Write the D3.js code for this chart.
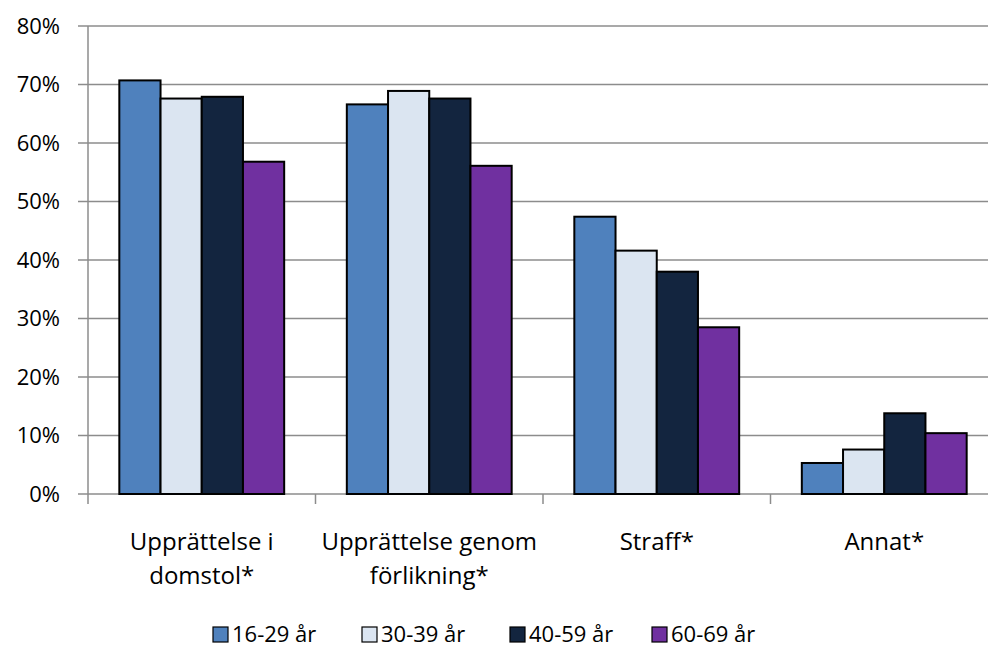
<!DOCTYPE html>
<html>
<head>
<meta charset="utf-8">
<script src="https://cdn.jsdelivr.net/npm/d3@7"></script>
<style>
  body { margin: 0; background: #fff; }
  svg { display: block; font-family: "Open Sans", Lato, sans-serif; }
</style>
</head>
<body>
<div id="chart"></div>
<script>
const categories = [["Upprättelse i", "domstol*"], ["Upprättelse genom", "förlikning*"], ["Straff*"], ["Annat*"]];
const seriesNames = ["16-29 år", "30-39 år", "40-59 år", "60-69 år"];
const seriesColors = ["#4F81BD", "#DBE5F1", "#13253F", "#7030A0"];
const values16 = [70.7, 66.6, 47.4, 5.3];
const values30 = [67.6, 68.9, 41.6, 7.6];
const values40 = [67.9, 67.6, 38.0, 13.8];
const values60 = [56.8, 56.1, 28.5, 10.4];
const yTicks = [0, 10, 20, 30, 40, 50, 60, 70, 80];

const allValues = [values16, values30, values40, values60];

const width = 988, height = 655;
const margin = {top: 26, left: 88, right: -10, bottom: 161};

const svg = d3.select("#chart").append("svg")
  .attr("width", width)
  .attr("height", height);

const x = d3.scaleBand()
  .domain(d3.range(categories.length))
  .range([margin.left, width - margin.right])
  .paddingInner(0).paddingOuter(0);

const xInner = d3.scaleBand()
  .domain(d3.range(seriesNames.length))
  .range([0, x.bandwidth()])
  .paddingOuter(0.76).paddingInner(0);

const y = d3.scaleLinear()
  .domain([0, 80])
  .range([height - margin.bottom, margin.top]);

// gridlines
svg.append("g")
  .selectAll("line")
  .data(yTicks)
  .enter().append("line")
  .attr("x1", margin.left - 10)
  .attr("x2", width)
  .attr("y1", d => y(d))
  .attr("y2", d => y(d))
  .attr("stroke", "#8c8c8c")
  .attr("stroke-width", 1.5);

// y axis line
svg.append("line")
  .attr("x1", margin.left).attr("x2", margin.left)
  .attr("y1", y(80)).attr("y2", y(0) + 10)
  .attr("stroke", "#8c8c8c")
  .attr("stroke-width", 1.5);

// y labels
svg.append("g")
  .selectAll("text")
  .data(yTicks)
  .enter().append("text")
  .attr("x", 60)
  .attr("y", d => y(d))
  .attr("dy", "0.36em")
  .attr("text-anchor", "end")
  .attr("font-size", 22)
  .attr("fill", "#000")
  .text(d => d + "%");

// category ticks
svg.append("g")
  .selectAll("line")
  .data(d3.range(1, categories.length + 1))
  .enter().append("line")
  .attr("x1", d => margin.left + d * x.bandwidth())
  .attr("x2", d => margin.left + d * x.bandwidth())
  .attr("y1", y(0))
  .attr("y2", y(0) + 10)
  .attr("stroke", "#8c8c8c")
  .attr("stroke-width", 1.5);

// bars
const groups = svg.append("g")
  .selectAll("g")
  .data(categories)
  .enter().append("g")
  .attr("transform", (d, i) => "translate(" + x(i) + ",0)");

groups.selectAll("rect")
  .data((d, i) => allValues.map((s, j) => ({s: j, v: s[i]})))
  .enter().append("rect")
  .attr("x", d => xInner(d.s))
  .attr("width", xInner.bandwidth())
  .attr("y", d => y(d.v))
  .attr("height", d => y(0) - y(d.v))
  .attr("fill", d => seriesColors[d.s])
  .attr("stroke", "#000")
  .attr("stroke-width", 2);

// category labels
groups.append("text")
  .attr("text-anchor", "middle")
  .attr("font-size", 24)
  .attr("fill", "#000")
  .selectAll("tspan")
  .data(d => d)
  .enter().append("tspan")
  .attr("x", x.bandwidth() / 2)
  .attr("y", (d, i) => 550 + i * 34)
  .text(d => d);

// legend
const legendX = [213, 362, 510, 652];
const legendItem = svg.append("g")
  .selectAll("g")
  .data(seriesNames)
  .enter().append("g")
  .attr("transform", (d, i) => "translate(" + legendX[i] + ",627)");

legendItem.append("rect")
  .attr("width", 15)
  .attr("height", 15)
  .attr("fill", (d, i) => seriesColors[i])
  .attr("stroke", "#000")
  .attr("stroke-width", 1.2);

legendItem.append("text")
  .attr("x", 19)
  .attr("y", 7.5)
  .attr("dy", "0.36em")
  .attr("font-size", 22)
  .attr("fill", "#000")
  .text(d => d);
</script>
</body>
</html>
